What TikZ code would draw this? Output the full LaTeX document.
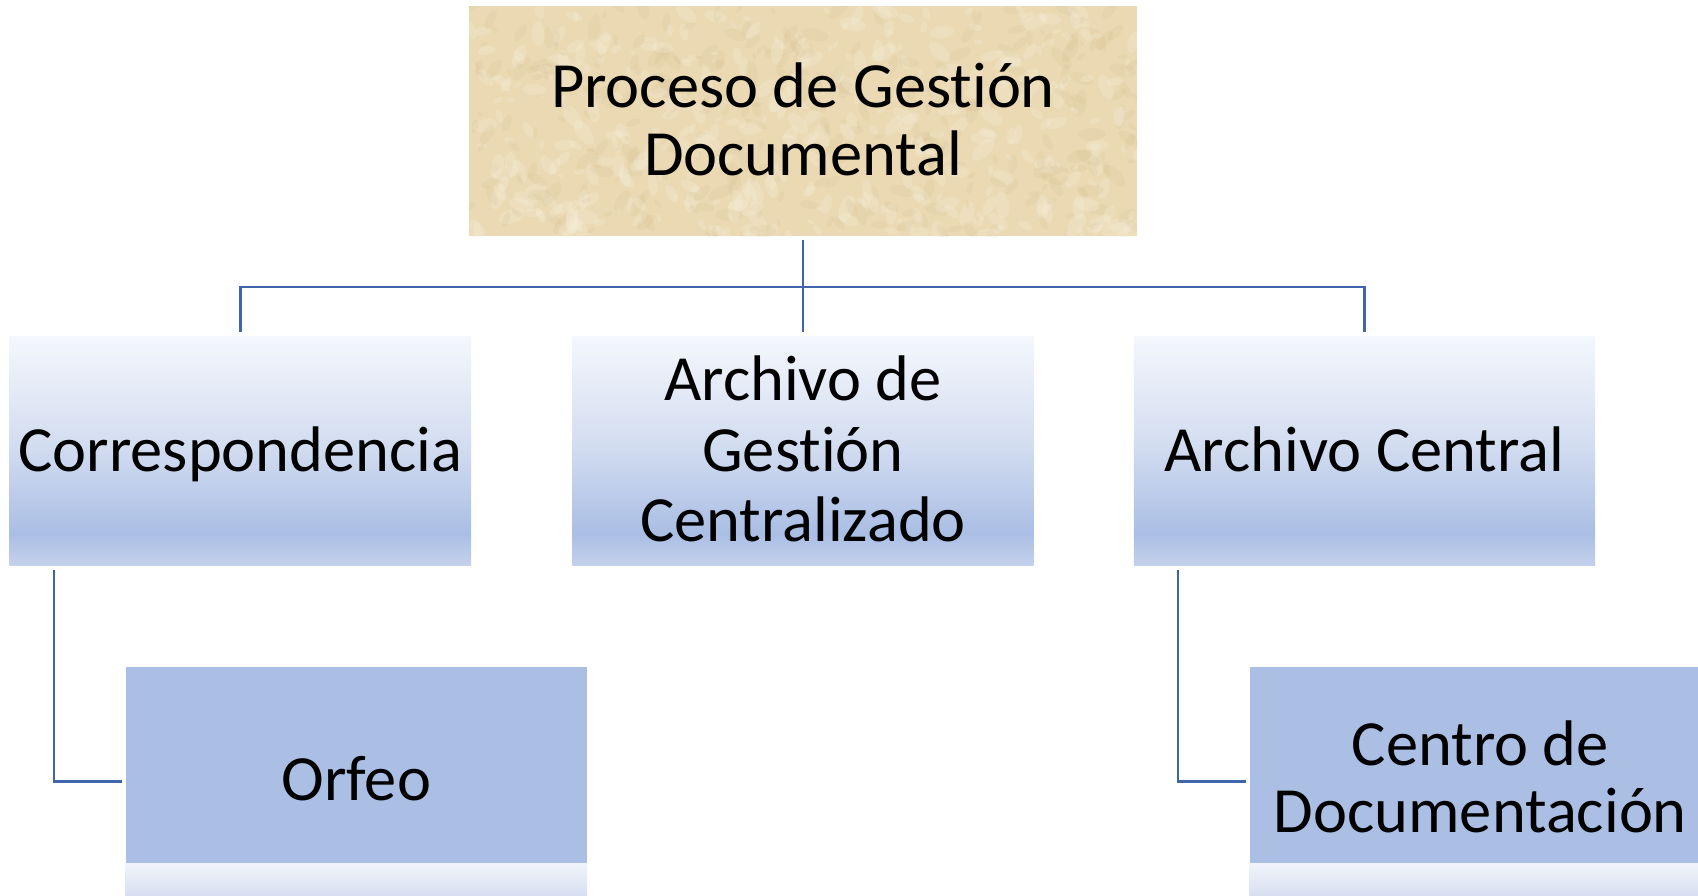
\documentclass[tikz,border=0pt]{standalone}
\usepackage{fontspec}
\setmainfont[Ligatures={NoCommon}]{Carlito}
\definecolor{lineblue}{HTML}{3F65AC}
\definecolor{solidblue}{HTML}{ABBFE5}
\definecolor{tanbase}{HTML}{EAD9B3}
\definecolor{tandark}{HTML}{C4A872}
\definecolor{tanlight}{HTML}{F7F0DE}
\definecolor{cA}{HTML}{F4F7FC}
\definecolor{cB}{HTML}{D4DEF1}
\definecolor{cC}{HTML}{AABEE4}
\definecolor{cD}{HTML}{C4D1EC}
\definecolor{bandtop}{HTML}{F1F4FA}
\definecolor{bandbot}{HTML}{D6DFF1}
\pgfdeclareverticalshading{lvlshade}{100bp}{color(0bp)=(cD); color(25bp)=(cD); color(32bp)=(cC); color(52bp)=(cB); color(75bp)=(cA); color(100bp)=(cA)}
\tikzset{
  conn/.style={draw=lineblue, line width=2.5pt},
  lvlbox/.style={rectangle, shading=lvlshade, minimum width=426pt, minimum height=211pt, inner sep=0pt, draw=none},
  solidbox/.style={rectangle, fill=solidblue, minimum width=426pt, minimum height=211pt, inner sep=0pt, draw=none},
  topbox/.style={rectangle, fill=tanbase, minimum width=617pt, minimum height=212pt, inner sep=0pt, draw=none},
  lbl/.style={font=\fontsize{59.5}{63}\selectfont, anchor=base, inner sep=0pt, text=black},
}
\begin{document}
\begin{tikzpicture}[x=1pt,y=-1pt]
\useasboundingbox (0,0) rectangle (1568,826.5);
\fill[white] (0,0) rectangle (1568,826.5);
\clip (0,0) rectangle (1568,826.5);

% top box with parchment texture
\node[topbox] (top) at (741.5,112) {};
\begin{scope}
  \clip (top.south west) rectangle (top.north east);
  \pgfmathsetseed{11}
  \foreach \i in {1,...,700}{
    \pgfmathsetmacro\px{433+617*rnd}
    \pgfmathsetmacro\py{6+212*rnd}
    \pgfmathsetmacro\rr{3+10*rnd}
    \pgfmathsetmacro\ang{180*rnd}
    \pgfmathsetmacro\cc{rnd}
    \ifdim\cc pt<0.55pt
      \fill[tanlight,opacity=0.28,rotate around={\ang:(\px,\py)}] (\px,\py) ellipse[x radius=\rr pt, y radius=0.5*\rr pt];
    \else
      \fill[tandark,opacity=0.10,rotate around={\ang:(\px,\py)}] (\px,\py) ellipse[x radius=\rr pt, y radius=0.45*\rr pt];
    \fi
  }
\end{scope}
\node[lbl] (t1a) at (741.5,99) {Proceso de Gestión};
\node[lbl] (t1b) at (741.5,162) {Documental};

% level 1 boxes
\node[lvlbox] (corr) at (222,416.5) {};
\node[lvlbox] (agc) at (741.5,416.5) {};
\node[lvlbox] (ac) at (1260,416.5) {};
\node[lbl] (t2) at (corr.center |- 0,435) {Correspondencia};
\node[lbl] (t3a) at (agc.center |- 0,370) {Archivo de};
\node[lbl] (t3b) at (agc.center |- 0,435) {Gestión};
\node[lbl] (t3c) at (agc.center |- 0,500) {Centralizado};
\node[lbl] (t4) at (ac.center |- 0,435) {Archivo Central};

% level 2 boxes
\node[solidbox] (orfeo) at (329,721.5) {};
\node[solidbox] (centro) at (1367,721.5) {};
\shade[top color=bandtop, bottom color=bandbot] (orfeo.west |- 0,797) rectangle (orfeo.south east);
\shade[top color=bandtop, bottom color=bandbot] (centro.west |- 0,797) rectangle (centro.south east);
\node[lbl] (t5) at (orfeo.center |- 0,739) {Orfeo};
\node[lbl] (t6a) at (centro.center |- 0,707) {Centro de};
\node[lbl] (t6b) at (centro.center |- 0,769) {Documentación};

% connectors
\coordinate (hub) at (741.5,265);
\draw[conn, shorten <=3pt, shorten >=4pt] (top.south) -- (agc.north);
\draw[conn, shorten <=4pt, shorten >=4pt] (corr.north) -- (corr.north |- hub) -- (ac.north |- hub) -- (ac.north);
\draw[conn, shorten <=4pt, shorten >=3pt] ([xshift=41pt]corr.south west) |- (orfeo.west);
\draw[conn, shorten <=4pt, shorten >=3pt] ([xshift=41pt]ac.south west) |- (centro.west);
\end{tikzpicture}
\end{document}
